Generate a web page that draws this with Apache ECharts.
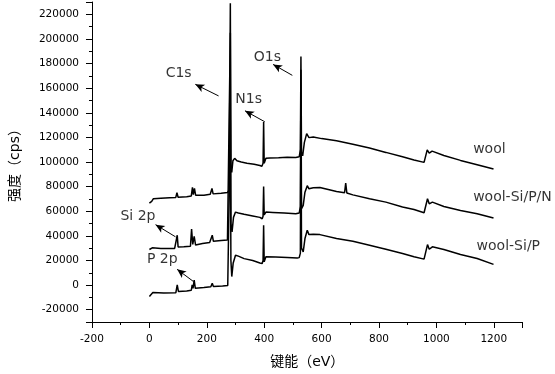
<!DOCTYPE html>
<html>
<head>
<meta charset="utf-8">
<script src="https://cdn.jsdelivr.net/npm/echarts@6/dist/echarts.min.js"></script>
<style>html,body{margin:0;padding:0;background:#fff;}#c{width:555px;height:374px;}</style>
</head>
<body>
<div id="c"></div>
<script>
// ---- data (binding energy eV, intensity cps) ----
const seriesNames = ['wool', 'wool-Si/P/N', 'wool-Si/P'];

const woolData = [
  [0, 66600], [8, 68000], [14, 70200], [40, 70600], [70, 71000], [92, 71200], [96, 75000], [100, 71400],
  [130, 71800], [146, 72400], [150, 79500], [153, 73500], [157, 78500], [161, 73000], [190, 73000],
  [212, 73800], [218, 78500], [222, 74100], [250, 74600], [272, 75200], [278, 77000], [282, 229000],
  [284, 95000], [287, 91600], [291, 101000], [297, 103000], [305, 101000], [320, 100000], [340, 99000],
  [365, 98200], [385, 97200], [392, 96500], [396, 99000], [398, 132500], [400, 99000], [406, 103000],
  [420, 103300], [450, 103500], [480, 103800], [510, 103700], [522, 104200], [526, 110000], [528, 185800],
  [530, 108000], [534, 105000], [540, 115900], [548, 123100], [556, 119800], [571, 120400], [600, 119000],
  [652, 117200], [709, 114500], [767, 111300], [824, 107800], [882, 104200], [922, 101600], [957, 99700],
  [962, 99500], [968, 109900], [975, 107200], [985, 108800], [1026, 105300], [1084, 101300], [1142, 97800],
  [1199, 94300]
];

const woolSiPNData = [
  [0, 28900], [10, 30300], [40, 29800], [88, 29800], [94, 30000], [97, 40500], [100, 31000], [120, 31100],
  [143, 31500], [147, 45500], [151, 33000], [156, 39500], [161, 32500], [185, 33700], [210, 34500],
  [216, 35000], [219, 40500], [223, 35600], [250, 36200], [272, 36600], [278, 38000], [282, 205000],
  [284, 50000], [288, 43200], [293, 55000], [300, 59300], [310, 58500], [330, 57500], [360, 56200],
  [385, 55000], [393, 53900], [396, 56000], [398, 80000], [400, 57000], [406, 59300], [430, 59000],
  [470, 58500], [510, 58000], [522, 58500], [526, 64000], [528, 175000], [530, 62000], [536, 64700],
  [542, 75500], [550, 80800], [556, 78200], [571, 79000], [594, 79200], [652, 76000], [680, 75000],
  [684, 82800], [688, 74800], [709, 73300], [767, 70100], [824, 67400], [882, 63400], [922, 61400],
  [957, 58800], [962, 59000], [969, 70100], [975, 66000], [986, 67400], [1026, 63900], [1084, 60600],
  [1142, 58000], [1199, 54500]
];

const woolSiPData = [
  [0, -9300], [12, -6100], [50, -6400], [92, -6300], [97, 100], [101, -5200], [130, -4800], [146, -4200],
  [149, 200], [152, -2600], [156, 4100], [160, -2600], [190, -2000], [214, -1300], [219, 1500], [223, -1200],
  [255, -700], [273, -300], [278, 1000], [282, 134000], [284, 20000], [287, 6900], [292, 18000], [300, 24300],
  [310, 23500], [330, 21500], [360, 20000], [385, 18000], [393, 17600], [396, 20000], [398, 48500],
  [400, 19000], [406, 23000], [440, 22800], [480, 22500], [515, 22000], [522, 22300], [526, 26000],
  [528, 150000], [530, 30000], [536, 27000], [542, 37800], [550, 44500], [556, 41000], [571, 41200],
  [594, 41000], [652, 37800], [709, 35600], [767, 32400], [824, 29100], [882, 25700], [922, 23000],
  [957, 21100], [962, 21000], [969, 32900], [975, 29100], [986, 31100], [1026, 28900], [1084, 24900],
  [1142, 21600], [1199, 16800]
];

// peak annotations: label text, label anchor, arrow start, arrow tip (data coords)
const peakLabels = ['C1s', 'N1s', 'O1s', 'Si 2p', 'P 2p'];
const peakLabelPos = [[102, 172000], [346, 151000], [411, 185400], [-40, 56000], [45, 20900]];
const arrowFrom = [[241, 153700], [402, 132700], [498, 170400], [91, 39200], [154, 2800]];
const arrowTo = [[160, 163100], [333, 141600], [431, 179300], [21.5, 49100], [96.5, 12800]];

// series name labels (left anchor)
const nameLabelPos = [[1128, 110600], [1128, 71000], [1140, 31400]];

const xMin = -200, xMax = 1300, xStep = 200;
const yMin = -30000, yMax = 230000, ySplit = 13;

// ---- chart ----
const font = "'DejaVu Sans', 'Noto Sans CJK SC', sans-serif";
const chart = echarts.init(document.getElementById('c'), null, {renderer: 'canvas'});

const lineSeries = [woolData, woolSiPNData, woolSiPData].map((d, i) => ({
  name: seriesNames[i],
  type: 'line',
  data: d,
  showSymbol: false,
  symbol: 'none',
  lineStyle: {color: '#000', width: 1.5},
  itemStyle: {color: '#000'},
  emphasis: {disabled: true},
  silent: true,
  clip: true,
  z: 2
}));

const annoSeries = {
  type: 'scatter',
  symbolSize: 0,
  silent: true,
  data: peakLabels.map((t, i) => ({name: t, value: peakLabelPos[i]}))
    .concat(seriesNames.map((t, i) => ({
      name: t, value: nameLabelPos[i],
      label: {position: 'right', distance: 0}
    }))),
  label: {
    show: true,
    position: 'inside',
    formatter: p => p.name,
    color: '#000',
    fontSize: 14,
    fontFamily: font
  },
  markLine: {
    silent: true,
    animation: false,
    symbol: ['none', 'arrow'],
    symbolSize: [6, 9],
    label: {show: false},
    lineStyle: {color: '#000', width: 1, type: 'solid'},
    emphasis: {disabled: true},
    data: arrowFrom.map((f, i) => [{coord: f}, {coord: arrowTo[i]}])
  },
  z: 3
};

chart.setOption({
  animation: false,
  backgroundColor: '#fff',
  grid: {left: 89, right: 32.5, top: 2, bottom: 50, containLabel: false},
  xAxis: {
    type: 'value',
    min: xMin, max: xMax, interval: xStep,
    name: '键能（eV）',
    nameLocation: 'middle',
    nameGap: 33,
    nameTextStyle: {fontSize: 14, color: '#000', fontFamily: font},
    axisLine: {show: true, onZero: false, lineStyle: {color: '#000', width: 1}},
    axisTick: {show: true, inside: false, length: 6, lineStyle: {color: '#000'}},
    minorTick: {show: true, splitNumber: 2, length: 3, lineStyle: {color: '#000'}},
    splitLine: {show: false},
    axisLabel: {
      color: '#000', fontSize: 10.5, fontFamily: font, margin: 12,
      showMaxLabel: false,
      formatter: v => (v > 1200 ? '' : String(v))
    }
  },
  yAxis: {
    type: 'value',
    min: yMin, max: yMax, splitNumber: ySplit,
    name: '强度（cps）',
    nameLocation: 'middle',
    nameGap: 70,
    nameTextStyle: {fontSize: 14, color: '#000', fontFamily: font},
    axisLine: {show: true, onZero: false, lineStyle: {color: '#000', width: 1}},
    axisTick: {show: true, inside: false, length: 6, lineStyle: {color: '#000'}},
    minorTick: {show: true, splitNumber: 2, length: 3, lineStyle: {color: '#000'}},
    splitLine: {show: false},
    axisLabel: {
      color: '#000', fontSize: 10.5, fontFamily: font, margin: 13,
      showMinLabel: false, showMaxLabel: false,
      formatter: v => (v % 20000 === 0 ? String(v) : '')
    }
  },
  series: lineSeries.concat([annoSeries])
});
</script>
</body>
</html>
